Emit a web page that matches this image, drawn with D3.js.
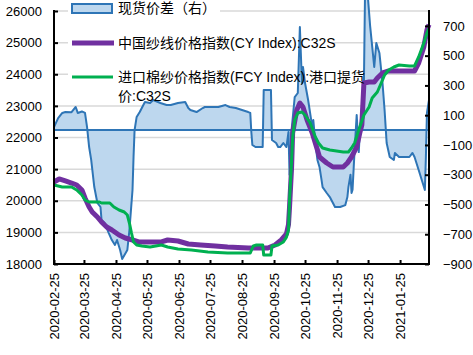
<!DOCTYPE html>
<html><head><meta charset="utf-8">
<script src="https://cdn.jsdelivr.net/npm/d3@7"></script>
<style>
html,body{margin:0;padding:0;background:#fff;}
svg{display:block;}
text{font-family:"Liberation Sans",Arial,"Noto Sans CJK SC",sans-serif;fill:#000;}
</style></head>
<body><svg id="c" width="473" height="355"></svg>
<script>
// ---- data ----
const spreadDates = ["2020-02-25","2020-02-29","2020-03-04","2020-03-07","2020-03-13","2020-03-17","2020-03-19","2020-03-23","2020-03-26","2020-03-28","2020-03-30","2020-04-01","2020-04-04","2020-04-07","2020-04-10","2020-04-11","2020-04-14","2020-04-18","2020-04-21","2020-04-24","2020-04-26","2020-04-29","2020-05-01","2020-05-06","2020-05-08","2020-05-11","2020-05-12","2020-05-13","2020-05-15","2020-05-18","2020-05-23","2020-05-28","2020-05-31","2020-06-07","2020-06-13","2020-06-17","2020-06-24","2020-07-01","2020-07-04","2020-07-06","2020-07-12","2020-07-18","2020-07-20","2020-08-02","2020-08-09","2020-08-13","2020-08-19","2020-08-31","2020-09-02","2020-09-03","2020-09-04","2020-09-07","2020-09-14","2020-09-15","2020-09-22","2020-09-23","2020-09-27","2020-09-29","2020-10-01","2020-10-04","2020-10-07","2020-10-09","2020-10-10","2020-10-12","2020-10-15","2020-10-18","2020-10-20","2020-10-22","2020-10-23","2020-10-25","2020-10-28","2020-11-01","2020-11-02","2020-11-04","2020-11-06","2020-11-08","2020-11-10","2020-11-11","2020-11-15","2020-11-18","2020-11-21","2020-11-23","2020-11-28","2020-12-03","2020-12-05","2020-12-06","2020-12-08","2020-12-09","2020-12-10","2020-12-12","2020-12-14","2020-12-16","2020-12-17","2020-12-21","2020-12-22","2020-12-25","2020-12-27","2020-12-31","2021-01-02","2021-01-05","2021-01-08","2021-01-10","2021-01-12","2021-01-15","2021-01-19","2021-01-20","2021-01-24","2021-02-03","2021-02-06","2021-02-08","2021-02-12","2021-02-15","2021-02-18","2021-02-19","2021-02-20","2021-02-22"];
const spreadValues = [20,80,115,121,120,155,115,125,115,20,-114,-200,-383,-490,-517,-604,-625,-692,-739,-772,-739,-806,-866,-806,-672,-403,-181,0,88,121,189,182,202,182,168,168,182,189,148,135,121,148,155,155,168,155,148,121,115,-13,-100,-114,-114,269,269,-67,-87,-114,-114,-87,-114,-13,-300,0,222,249,692,316,424,316,202,20,67,-87,-201,-248,-336,-383,-423,-450,-490,-517,-517,-504,-450,-383,-300,-423,-400,-134,101,-148,-20,316,880,880,700,424,585,518,316,135,-87,-181,-201,-154,-181,-181,-154,-181,-268,-336,-403,-181,115,202];

const cyDates = ["2020-02-25","2020-03-01","2020-03-07","2020-03-13","2020-03-18","2020-03-23","2020-03-26","2020-03-30","2020-04-02","2020-04-07","2020-04-11","2020-04-16","2020-04-21","2020-04-28","2020-05-04","2020-05-11","2020-05-17","2020-05-27","2020-06-08","2020-06-14","2020-06-24","2020-07-04","2020-07-16","2020-07-30","2020-08-11","2020-08-31","2020-09-19","2020-09-26","2020-10-02","2020-10-07","2020-10-09","2020-10-10","2020-10-12","2020-10-13","2020-10-17","2020-10-20","2020-10-23","2020-10-27","2020-11-01","2020-11-06","2020-11-08","2020-11-15","2020-11-21","2020-12-01","2020-12-05","2020-12-09","2020-12-14","2020-12-17","2020-12-19","2020-12-21","2020-12-26","2020-12-31","2021-01-03","2021-01-08","2021-01-14","2021-02-08","2021-02-12","2021-02-17","2021-02-20","2021-02-22"];
const cyValues = [20593,20688,20625,20561,20498,20340,20087,19802,19644,19486,19328,19170,19075,18917,18822,18759,18696,18696,18696,18759,18728,18633,18601,18570,18538,18506,18506,18601,18759,18950,19250,19802,21067,22142,22870,23091,22965,22553,22142,21605,21383,21194,21067,21067,21194,21383,21700,22142,22400,23723,23755,23755,23881,24040,24103,24103,24356,24862,25400,25570];

const fcyDates = ["2020-02-25","2020-03-04","2020-03-13","2020-03-18","2020-03-23","2020-03-26","2020-03-30","2020-04-09","2020-04-11","2020-04-19","2020-04-23","2020-04-28","2020-05-03","2020-05-06","2020-05-08","2020-05-10","2020-05-12","2020-05-15","2020-05-20","2020-05-28","2020-06-08","2020-06-14","2020-06-24","2020-07-07","2020-07-23","2020-08-11","2020-09-02","2020-09-05","2020-09-08","2020-09-14","2020-09-15","2020-09-22","2020-09-23","2020-09-29","2020-10-04","2020-10-07","2020-10-09","2020-10-10","2020-10-12","2020-10-13","2020-10-15","2020-10-18","2020-10-22","2020-10-25","2020-10-30","2020-11-04","2020-11-07","2020-11-11","2020-11-18","2020-12-01","2020-12-06","2020-12-09","2020-12-12","2020-12-16","2020-12-21","2020-12-26","2020-12-29","2021-01-03","2021-01-08","2021-01-10","2021-01-14","2021-01-19","2021-01-24","2021-02-03","2021-02-08","2021-02-12","2021-02-17","2021-02-20","2021-02-22"];
const fcyValues = [20498,20435,20435,20340,20182,20024,19960,19960,19929,19929,19802,19707,19644,19549,19296,18980,18696,18601,18570,18538,18601,18538,18475,18443,18380,18348,18348,18570,18601,18601,18285,18285,18570,18601,18696,18850,19075,20024,21289,22000,22553,22775,22807,22712,22459,22016,21826,21668,21605,21542,21542,21668,21826,22237,22712,22965,23249,23439,23818,23976,24134,24229,24292,24261,24261,24546,24988,25304,25450];

const leftTicks = [18000,19000,20000,21000,22000,23000,24000,25000,26000];
const rightTicks = [-900,-700,-500,-300,-100,100,300,500,700];
const xTickDates = ["2020-02-25","2020-03-25","2020-04-25","2020-05-25","2020-06-25","2020-07-25","2020-08-25","2020-09-25","2020-10-25","2020-11-25","2020-12-25","2021-01-25"];
const legendLabels = ["现货价差（右）","中国纱线价格指数(CY Index):C32S","进口棉纱价格指数(FCY Index):港口提货","价:C32S"];

// ---- layout ----
const parse = d3.timeParse("%Y-%m-%d");
const L = 54, R = 429, T = 11, B = 264;
const x = d3.scaleTime().domain([parse("2020-02-25"), parse("2021-02-22")]).range([L, R]);
const yL = d3.scaleLinear().domain([18000, 26000]).range([B, T]);
const yR = d3.scaleLinear().domain([-900, 800]).range([B, T]);

const svg = d3.select("#c");
const colBlue = "#2E75B6", colFill = "#BDD7EE", colPurple = "#7030A0", colGreen = "#00B050";

// gridlines
svg.append("g").selectAll("line").data(leftTicks.filter(v => v > 18000)).join("line")
  .attr("x1", L).attr("x2", R).attr("y1", d => yL(d)).attr("y2", d => yL(d))
  .attr("stroke", "#D9D9D9").attr("stroke-width", 1.5);

// legend background (hides gridlines behind legend entries)
const lgBg = svg.append("g");
[[68, 0, 152, 17], [68, 34, 264, 18], [68, 67, 300, 19]].forEach(r => {
  lgBg.append("rect").attr("x", r[0]).attr("y", r[1]).attr("width", r[2]).attr("height", r[3]).attr("fill", "#fff");
});

// area (spread, right axis)
const spread = spreadDates.map((d, i) => ({d: parse(d), v: spreadValues[i]}));
svg.append("path").datum(spread)
  .attr("d", d3.area().x(p => x(p.d)).y0(yR(0)).y1(p => yR(p.v)))
  .attr("fill", colFill).attr("stroke", "none");
svg.append("path").datum(spread)
  .attr("d", d3.line().x(p => x(p.d)).y(p => yR(p.v)))
  .attr("fill", "none").attr("stroke", colBlue).attr("stroke-width", 2).attr("stroke-linejoin", "round");
svg.append("line").attr("x1", L).attr("x2", R).attr("y1", yR(0)).attr("y2", yR(0))
  .attr("stroke", colBlue).attr("stroke-width", 2);

// lines (left axis)
const cy = cyDates.map((d, i) => ({d: parse(d), v: cyValues[i]}));
const fcy = fcyDates.map((d, i) => ({d: parse(d), v: fcyValues[i]}));
const lineL = d3.line().x(p => x(p.d)).y(p => yL(p.v));
svg.append("path").datum(cy).attr("d", lineL).attr("fill", "none")
  .attr("stroke", colPurple).attr("stroke-width", 5).attr("stroke-linejoin", "round");
svg.append("path").datum(fcy).attr("d", lineL).attr("fill", "none")
  .attr("stroke", colGreen).attr("stroke-width", 3).attr("stroke-linejoin", "round");

// axes
const ax = svg.append("g").attr("stroke", "#000").attr("stroke-width", 2);
ax.append("line").attr("x1", L).attr("x2", L).attr("y1", T - 1).attr("y2", B + 1);
ax.append("line").attr("x1", R).attr("x2", R).attr("y1", T - 1).attr("y2", B + 1);
ax.append("line").attr("x1", L - 1).attr("x2", R + 1).attr("y1", B).attr("y2", B);

const leftAxis = svg.append("g").attr("transform", `translate(${L},0)`)
  .call(d3.axisLeft(yL).tickValues(leftTicks).tickSize(-4).tickPadding(12).tickFormat(d3.format("d")));
const rightAxis = svg.append("g").attr("transform", `translate(${R},0)`)
  .call(d3.axisRight(yR).tickValues(rightTicks).tickSize(-4).tickPadding(14).tickFormat(d3.format("d")));
rightAxis.selectAll("text").attr("text-anchor", "start");
const bottomAxis = svg.append("g").attr("transform", `translate(0,${B})`)
  .call(d3.axisBottom(x).tickValues(xTickDates.map(parse)).tickSize(-4).tickFormat(d3.timeFormat("%Y-%m-%d")));
bottomAxis.selectAll("text").attr("transform", "rotate(-90)")
  .attr("text-anchor", "end").attr("x", -9).attr("y", 0).attr("dy", "0.35em");
[leftAxis, rightAxis, bottomAxis].forEach(g => {
  g.select(".domain").remove();
  g.selectAll(".tick line").attr("stroke", "#000").attr("stroke-width", 2);
  g.selectAll("text").style("font-size", "13px").style("font-family", '"Liberation Sans",Arial,sans-serif').attr("fill", "#000");
});

// legend
const lg = svg.append("g").style("font-size", "14px");
lg.append("rect").attr("x", 72).attr("y", 4).attr("width", 40).attr("height", 9)
  .attr("fill", colFill).attr("stroke", colBlue).attr("stroke-width", 2);
lg.append("line").attr("x1", 72).attr("x2", 114).attr("y1", 43).attr("y2", 43)
  .attr("stroke", colPurple).attr("stroke-width", 5);
lg.append("line").attr("x1", 72).attr("x2", 113).attr("y1", 77).attr("y2", 77)
  .attr("stroke", colGreen).attr("stroke-width", 3);
const lgY = [13, 48, 82, 101];
legendLabels.forEach((t, i) => {
  lg.append("text").attr("x", 118).attr("y", lgY[i]).text(t).attr("fill", "#000");
});
</script></body></html>
